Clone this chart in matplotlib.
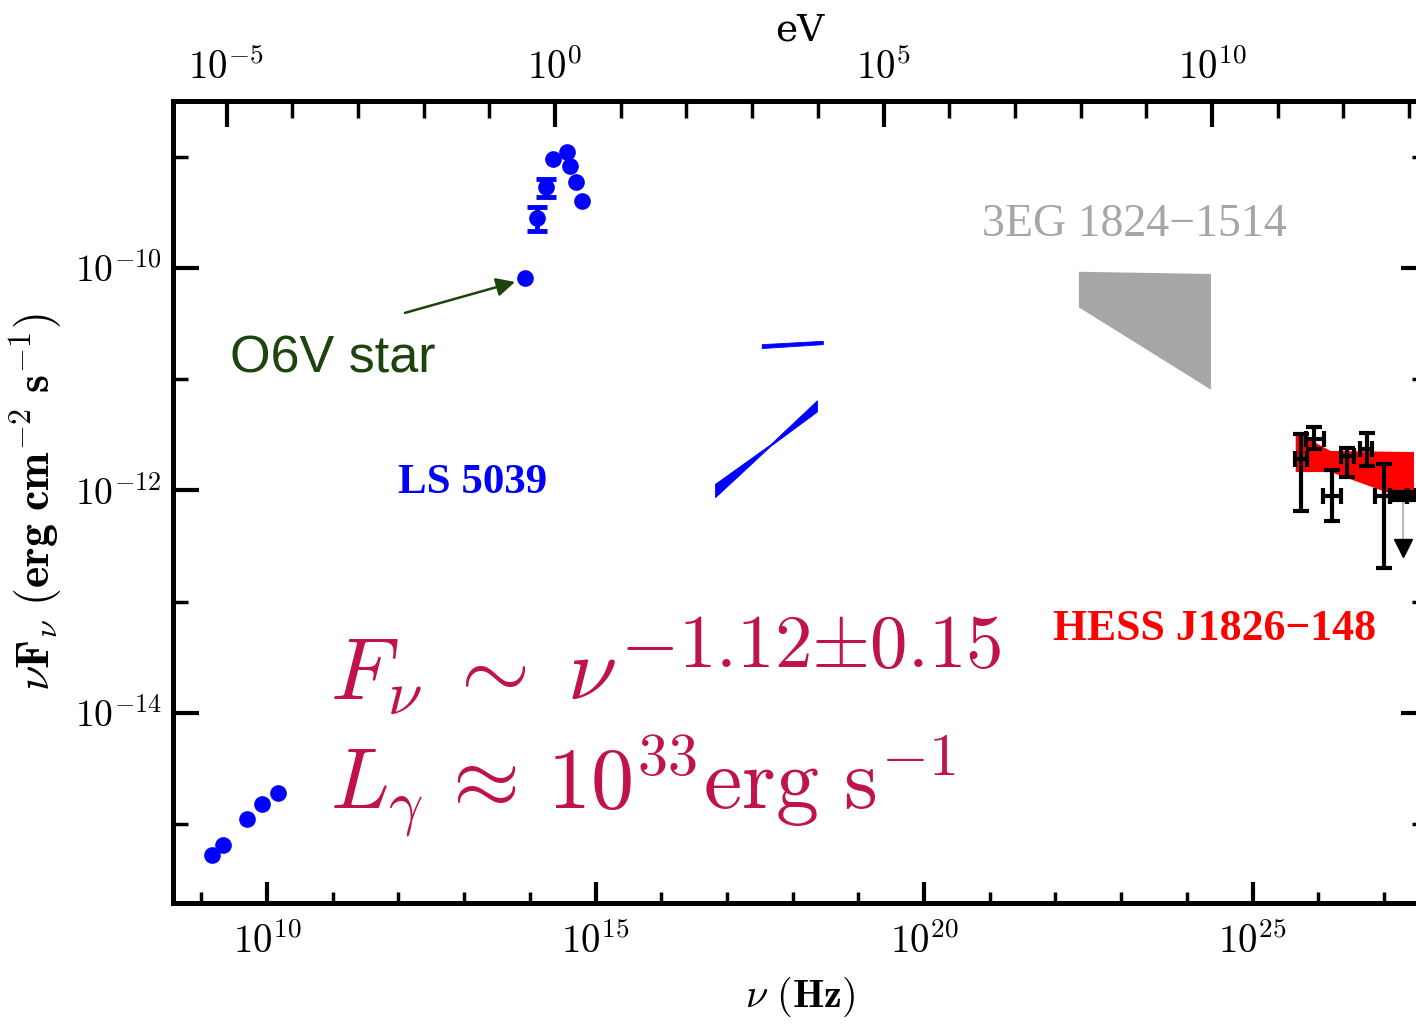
import numpy as np
import matplotlib
matplotlib.use("Agg")
import matplotlib.pyplot as plt
from matplotlib.ticker import FixedLocator, NullFormatter, FuncFormatter

plt.rcParams['mathtext.fontset'] = 'cm'

H_EV = 4.135667e-15  # eV per Hz

# ---- LS 5039: radio points (log10 nu [Hz], log10 nuFnu [erg cm^-2 s^-1])
radio_lognu = [9.16, 9.33, 9.69, 9.92, 10.16]
radio_logf = [-15.28, -15.19, -14.95, -14.82, -14.72]

# ---- LS 5039: optical / UV photometry
opt_lognu = [13.92, 14.11, 14.25, 14.35, 14.56, 14.61, 14.70, 14.80]
opt_logf = [-10.09, -9.55, -9.27, -9.02, -8.96, -9.08, -9.23, -9.40]
opt_logf_lo = [-10.09, -9.67, -9.36, -9.02, -8.96, -9.08, -9.23, -9.40]
opt_logf_hi = [-10.09, -9.45, -9.20, -9.02, -8.96, -9.08, -9.23, -9.40]

# ---- LS 5039: X-ray spectral bands (upper and lower envelopes)
xr1_lognu = [17.53, 18.46]
xr1_upper = [-10.685, -10.655]
xr1_lower = [-10.72, -10.685]
xr2_lognu = [16.82, 17.66, 18.37]
xr2_upper = [-11.94, -11.585, -11.19]
xr2_lower = [-12.06, -11.60, -11.29]

# ---- 3EG 1824-1514 butterfly
egret_lognu = [22.35, 24.36]
egret_upper = [-10.03, -10.05]
egret_lower = [-10.35, -11.09]

# ---- HESS J1826-148 butterfly
hess_band_lognu = [25.65, 26.18, 27.45]
hess_band_upper = [-11.47, -11.64, -11.65]
hess_band_lower = [-11.83, -11.83, -12.10]

# ---- HESS J1826-148 flux points
hess_lognu = [25.74, 25.93, 26.21, 26.44, 26.74, 27.00, 27.23, 27.45]
hess_lognu_lo = [25.65, 25.81, 26.08, 26.34, 26.64, 26.87, 27.10, 27.35]
hess_lognu_hi = [25.83, 26.09, 26.34, 26.54, 26.82, 27.10, 27.35, 27.55]
hess_logf = [-11.72, -11.54, -12.05, -11.69, -11.63, -12.05, -12.05, -12.05]
hess_logf_lo = [-12.18, -11.63, -12.27, -11.88, -11.78, -12.70, -12.09, -12.09]
hess_logf_hi = [-11.49, -11.43, -11.82, -11.62, -11.48, -11.76, -12.01, -12.01]
hess_ul_lognu = [27.29]
hess_ul_logf = [-12.07]
hess_ul_drop = 0.45

# ---- axis ranges
lognu_range = [8.569, 27.656]
logf_range = [-15.707, -8.500]

BLUE = '#0000ff'
RED = '#ff0000'
GREY = '#a6a6a6'
GREEN = '#1c440c'
CRIMSON = '#c0134a'


def p10(v):
    return 10.0 ** np.asarray(v, dtype=float)


fig = plt.figure(figsize=(14.16, 10.29), dpi=100)
ax = fig.add_axes([173 / 1416, 1 - 903 / 1029, 1254 / 1416, 802 / 1029])
ax.set_xscale('log')
ax.set_yscale('log')
ax.set_xlim(p10(lognu_range))
ax.set_ylim(p10(logf_range))

# radio
ax.plot(p10(radio_lognu), p10(radio_logf), 'o', color=BLUE, ms=12, mew=0, zorder=4)

# optical: error bars only where an uncertainty is given
opt_x = p10(opt_lognu)
opt_f = p10(opt_logf)
opt_lo = p10(opt_logf_lo)
opt_hi = p10(opt_logf_hi)
has_err = (opt_hi - opt_lo) > 0
ax.errorbar(opt_x[has_err], opt_f[has_err],
            yerr=[opt_f[has_err] - opt_lo[has_err], opt_hi[has_err] - opt_f[has_err]],
            fmt='none', ecolor=BLUE, elinewidth=3.5, capsize=7.5, capthick=3.5, zorder=4)
ax.plot(opt_x, opt_f, 'o', color=BLUE, ms=12, mew=0, zorder=5)

# X-ray bands
ax.fill_between(p10(xr1_lognu), p10(xr1_lower), p10(xr1_upper), color=BLUE, lw=0.6, zorder=3)
ax.fill_between(p10(xr2_lognu), p10(xr2_lower), p10(xr2_upper), color=BLUE, lw=0.6, zorder=3)

# EGRET butterfly
ax.fill_between(p10(egret_lognu), p10(egret_lower), p10(egret_upper), color=GREY, lw=0, zorder=2)

# HESS butterfly
ax.fill_between(p10(hess_band_lognu), p10(hess_band_lower), p10(hess_band_upper),
                color=RED, lw=0, zorder=2)

# HESS flux points
hx = p10(hess_lognu)
hy = p10(hess_logf)
ax.errorbar(hx, hy,
            xerr=[hx - p10(hess_lognu_lo), p10(hess_lognu_hi) - hx],
            yerr=[hy - p10(hess_logf_lo), p10(hess_logf_hi) - hy],
            fmt='none', ecolor='black', elinewidth=3, capsize=5.5, capthick=3, zorder=5)
# upper limit
for lx, lf in zip(hess_ul_lognu, hess_ul_logf):
    ax.plot([10 ** lx, 10 ** lx], [10 ** lf, 10 ** (lf - hess_ul_drop)], color='#bbbbbb', lw=1.5, zorder=4)
    ax.plot([10 ** lx], [10 ** (lf - hess_ul_drop)], marker='v', color='black', ms=13, zorder=5)

# ---- labels
ax.text(0.1794, 0.511, 'LS 5039', transform=ax.transAxes, color=BLUE,
        family='Liberation Serif', fontweight='bold', fontsize=31, va='baseline')
ax.text(0.645, 0.832, '3EG 1824\u22121514', transform=ax.transAxes, color=GREY,
        family='Liberation Serif', fontsize=33, va='baseline')
ax.text(0.7018, 0.328, 'HESS J1826\u2212148', transform=ax.transAxes, color=RED,
        family='Liberation Serif', fontweight='bold', fontsize=31.5, va='baseline')
ax.text(0.0455, 0.661, 'O6V star', transform=ax.transAxes, color=GREEN,
        family='Liberation Sans', fontsize=37.5, va='baseline')
ax.annotate('', xy=(10 ** 13.775, 10 ** -10.126), xytext=(10 ** 12.10, 10 ** -10.404),
            arrowprops=dict(arrowstyle='-|>', color=GREEN, lw=1.8, mutation_scale=28,
                            shrinkA=0, shrinkB=0))

# power-law index and luminosity
base = ax.text(0.1252, 0.253, r'$F_\nu\;\sim\;\nu$', transform=ax.transAxes,
               color=CRIMSON, fontsize=64, va='baseline')
ax.annotate(r'$-1.12{\pm}0.15$', xy=(1, 1), xycoords=base, xytext=(3, 16),
            textcoords='offset points', color=CRIMSON, fontsize=54, va='top', ha='left')
ax.text(0.1252, 0.116, r'$L_\gamma\,\approx\,10^{33}\mathrm{erg\ s}^{-1}$', transform=ax.transAxes,
        color=CRIMSON, fontsize=62, va='baseline')

# ---- frame and ticks
for s in ax.spines.values():
    s.set_linewidth(3.5)


def sci_label(v, pos):
    e = int(round(np.log10(v)))
    return r'$10^{\mathbf{%d}}$' % e


ax.xaxis.set_major_locator(FixedLocator(p10([10, 15, 20, 25])))
ax.xaxis.set_minor_locator(FixedLocator(p10(np.arange(8, 29))))
ax.xaxis.set_major_formatter(FuncFormatter(sci_label))
ax.xaxis.set_minor_formatter(NullFormatter())
ax.yaxis.set_major_locator(FixedLocator(p10([-16, -14, -12, -10, -8])))
ax.yaxis.set_minor_locator(FixedLocator(p10(np.arange(-16, -7))))
ax.yaxis.set_major_formatter(FuncFormatter(sci_label))
ax.yaxis.set_minor_formatter(NullFormatter())

ax.tick_params(axis='x', which='major', direction='in', length=15, width=3, labelsize=28, pad=14,
               top=False, bottom=True)
ax.tick_params(axis='x', which='minor', direction='in', length=8, width=2.5, top=False, bottom=True)
ax.tick_params(axis='y', which='major', direction='in', length=19, width=3, labelsize=27, pad=8,
               left=True, right=True)
ax.tick_params(axis='y', which='minor', direction='in', length=11, width=2.5, left=True, right=True)

ax.set_xlabel(r'$\nu\ (\mathbf{Hz})$', fontsize=29, labelpad=10)
ax.set_ylabel(r'$\nu\mathbf{F}_\nu\ (\mathbf{erg\ cm^{-2}\ s^{-1}})$', fontsize=33, labelpad=8)

# ---- photon energy axis on top
top = ax.twiny()
top.set_xscale('log')
top.set_xlim(p10(lognu_range) * H_EV)
top.xaxis.set_major_locator(FixedLocator(p10([-5, 0, 5, 10])))
top.xaxis.set_minor_locator(FixedLocator(p10(np.arange(-7, 14))))
top.xaxis.set_major_formatter(FuncFormatter(sci_label))
top.xaxis.set_minor_formatter(NullFormatter())
top.tick_params(axis='x', which='major', direction='in', length=19, width=3, labelsize=28, pad=10)
top.tick_params(axis='x', which='minor', direction='in', length=12, width=2.5)
top.set_xlabel('eV', fontsize=27, family='DejaVu Serif', labelpad=6)
for s in top.spines.values():
    s.set_linewidth(3.5)

fig.savefig('out.png', dpi=100)
